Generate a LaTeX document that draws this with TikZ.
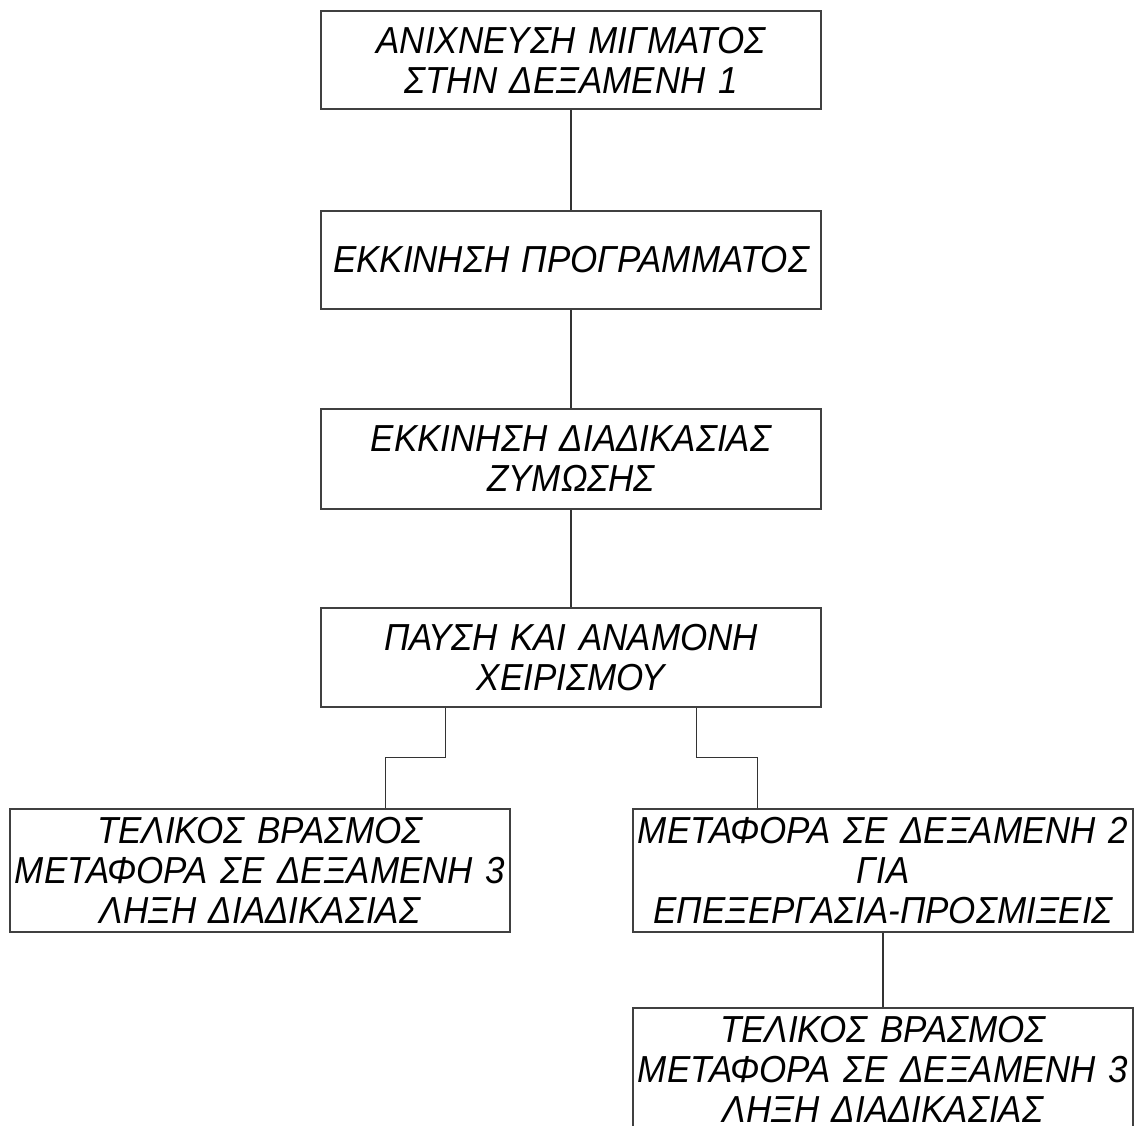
\documentclass[tikz,border=0pt]{standalone}
\usepackage{fontspec}
\setmainfont{Liberation Sans}[FakeStretch=0.93]
\usetikzlibrary{calc}
\tikzstyle{stage}=[rectangle, draw=black!75, line width=0.7pt, minimum width=10cm, text width=9.9cm, align=center, inner sep=0pt, font=\fontsize{21.4}{22.7}\selectfont\itshape]
\tikzstyle{link}=[draw=black!80, line width=0.6pt]

\begin{document}
\begin{tikzpicture}[x=0.2mm, y=-0.2mm]
			\useasboundingbox (0,0) rectangle (1140,1126);
			% main column
			\node[stage, minimum height=1.96cm] (detect) at (571,60) {ΑΝΙΧΝΕΥΣΗ ΜΙΓΜΑΤΟΣ\\ΣΤΗΝ ΔΕΞΑΜΕΝΗ 1};
			\node[stage, minimum height=1.96cm] (start) at (571,260) {ΕΚΚΙΝΗΣΗ ΠΡΟΓΡΑΜΜΑΤΟΣ};
			\node[stage, minimum height=2cm] (ferment) at (571,459) {ΕΚΚΙΝΗΣΗ ΔΙΑΔΙΚΑΣΙΑΣ\\ΖΥΜΩΣΗΣ};
			\node[stage, minimum height=1.98cm] (pause) at (571,657.5) {ΠΑΥΣΗ ΚΑΙ ΑΝΑΜΟΝΗ\\ΧΕΙΡΙΣΜΟΥ};
			% branches
			\node[stage, minimum height=2.46cm] (boilA) at (260,870.5) {ΤΕΛΙΚΟΣ ΒΡΑΣΜΟΣ\\ΜΕΤΑΦΟΡΑ ΣΕ ΔΕΞΑΜΕΝΗ 3\\ΛΗΞΗ ΔΙΑΔΙΚΑΣΙΑΣ};
			\node[stage, minimum height=2.46cm] (transfer) at (883,870.5) {ΜΕΤΑΦΟΡΑ ΣΕ ΔΕΞΑΜΕΝΗ 2\\ΓΙΑ\\ΕΠΕΞΕΡΓΑΣΙΑ-ΠΡΟΣΜΙΞΕΙΣ};
			\node[stage, minimum height=2.46cm] (boilB) at (883,1069.5) {ΤΕΛΙΚΟΣ ΒΡΑΣΜΟΣ\\ΜΕΤΑΦΟΡΑ ΣΕ ΔΕΞΑΜΕΝΗ 3\\ΛΗΞΗ ΔΙΑΔΙΚΑΣΙΑΣ};
			% connectors
			\draw[link] (detect) -- (start);
			\draw[link] (start) -- (ferment);
			\draw[link] (ferment) -- (pause);
			\coordinate (pauseL) at ($(pause.south west)!0.25!(pause.south east)$);
			\coordinate (pauseR) at ($(pause.south west)!0.75!(pause.south east)$);
			\coordinate (boilAtop) at ($(boilA.north west)!0.75!(boilA.north east)$);
			\coordinate (transfertop) at ($(transfer.north west)!0.25!(transfer.north east)$);
			\draw[link] (pauseL) |- ($(boilAtop)+(0,-51)$) -- (boilAtop);
			\draw[link] (pauseR) |- ($(transfertop)+(0,-51)$) -- (transfertop);
			\draw[link] (transfer) -- (boilB);
		\end{tikzpicture}
\end{document}
